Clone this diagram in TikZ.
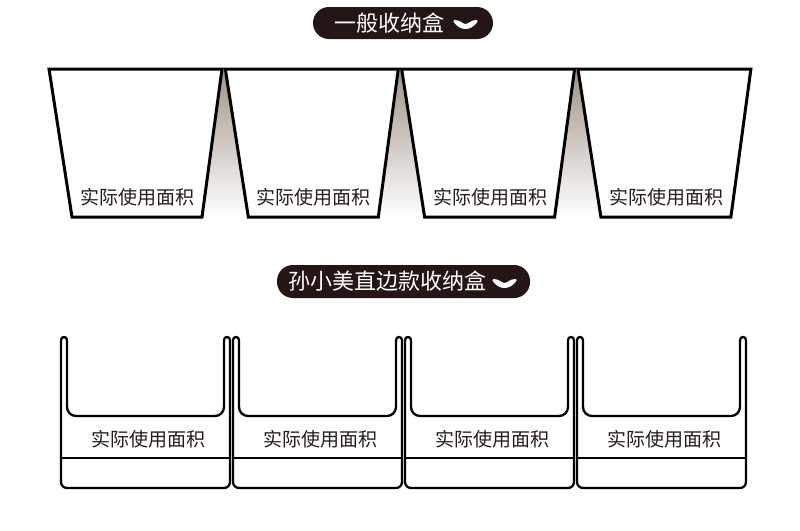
\documentclass[tikz,border=0pt]{standalone}
\usepackage{fontspec}
\setmainfont{Noto Sans CJK SC}
\definecolor{pillcol}{RGB}{35,22,20}
\definecolor{txtcol}{RGB}{35,28,26}
\definecolor{gradtop}{RGB}{158,145,135}
\definecolor{gradmid}{RGB}{208,200,193}
\begin{document}
\begin{tikzpicture}[x=1pt,y=-1pt,
  pill/.style={fill=pillcol,rounded corners=16pt,inner sep=0pt},
  pilltext/.style={text=white,font=\fontsize{22}{22}\selectfont,inner sep=0pt},
  label/.style={text=txtcol,font=\fontsize{19}{19}\selectfont,inner sep=0pt},
  trap/.style={line width=3pt,line join=miter,draw=black,fill=white},
  tray/.style={line width=2.3pt,draw=black},
  chev/.style={fill=white}]
\useasboundingbox[fill=white] (0,0) rectangle (800,530);

% ---- title 1
\node[pill,minimum width=180pt,minimum height=32pt] (pill1) at (403,23) {};
\node[pilltext] (title1) at (389.5,23) {一般收纳盒};
\coordinate (c1) at (465.5,23);
\fill[chev] ([xshift=-11pt,yshift=3pt]c1) .. controls ([xshift=-5pt,yshift=3pt]c1) and ([xshift=-3pt,yshift=-1pt]c1) .. ([yshift=-1pt]c1)
  .. controls ([xshift=3pt,yshift=-1pt]c1) and ([xshift=5pt,yshift=3pt]c1) .. ([xshift=11pt,yshift=3pt]c1)
  .. controls ([xshift=12.5pt,yshift=2pt]c1) .. ([xshift=11pt,yshift=0pt]c1)
  .. controls ([xshift=8pt,yshift=-4pt]c1) and ([xshift=4pt,yshift=-6pt]c1) .. ([yshift=-6pt]c1)
  .. controls ([xshift=-4pt,yshift=-6pt]c1) and ([xshift=-8pt,yshift=-4pt]c1) .. ([xshift=-11pt,yshift=0pt]c1)
  .. controls ([xshift=-12.5pt,yshift=2pt]c1) .. cycle;

% ---- gradient wedges between trapezoids
\foreach \i in {0,1,2}{
  \pgfmathsetmacro{\xo}{49+176.3*\i}
  \shade[top color=gradtop,middle color=gradmid,bottom color=white]
    (\xo+174.6,67) -- (\xo+153,217) -- (\xo+199.3,217) -- cycle;
}

% ---- trapezoids
\foreach \i in {0,1,2,3}{
  \pgfmathsetmacro{\xo}{49+176.3*\i}
  \draw[trap] (\xo,69) -- (\xo+173,69) -- (\xo+153,217) -- (\xo+23,217) -- cycle;
  \node[label] (tl\i) at (\xo+88.5,197) {实际使用面积};
}

% ---- title 2
\node[pill,minimum width=253pt,minimum height=33pt] (pill2) at (403.5,281.5) {};
\node[pilltext] (title2) at (387.5,281.5) {孙小美直边款收纳盒};
\coordinate (c2) at (504.5,282);
\fill[chev] ([xshift=-11pt,yshift=3pt]c2) .. controls ([xshift=-5pt,yshift=3pt]c2) and ([xshift=-3pt,yshift=-1pt]c2) .. ([yshift=-1pt]c2)
  .. controls ([xshift=3pt,yshift=-1pt]c2) and ([xshift=5pt,yshift=3pt]c2) .. ([xshift=11pt,yshift=3pt]c2)
  .. controls ([xshift=12.5pt,yshift=2pt]c2) .. ([xshift=11pt,yshift=0pt]c2)
  .. controls ([xshift=8pt,yshift=-4pt]c2) and ([xshift=4pt,yshift=-6pt]c2) .. ([yshift=-6pt]c2)
  .. controls ([xshift=-4pt,yshift=-6pt]c2) and ([xshift=-8pt,yshift=-4pt]c2) .. ([xshift=-11pt,yshift=0pt]c2)
  .. controls ([xshift=-12.5pt,yshift=2pt]c2) .. cycle;

% ---- straight-wall trays
\foreach \i in {0,1,2,3}{
  \pgfmathsetmacro{\L}{61+172*\i}
  \pgfmathsetmacro{\R}{\L+169}
  \draw[tray,rounded corners=9pt] (\L+6,340) -- (\L+6,416) -- (\R-6,416) -- (\R-6,340);
  \draw[tray,rounded corners=6pt] (\L,340) -- (\L,488) -- (\R,488) -- (\R,340);
  \draw[tray] (\L,340) .. controls (\L,336) and (\L+6,336) .. (\L+6,340);
  \draw[tray] (\R-6,340) .. controls (\R-6,336) and (\R,336) .. (\R,340);
  \draw[tray] (\L,458) -- (\R,458);
  \node[label] (bl\i) at (\L+87,439) {实际使用面积};
}
\end{tikzpicture}
\end{document}
